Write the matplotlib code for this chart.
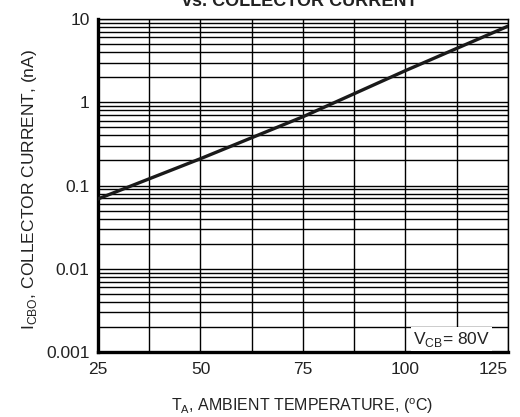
import numpy as np
import matplotlib.pyplot as plt
from matplotlib.ticker import FixedLocator, NullFormatter

# 데이터
온도 = [25, 50, 75, 100, 125]
전류 = [0.069, 0.21, 0.67, 2.4, 8.2]
x눈금 = [25, 50, 75, 100, 125]
y눈금 = [0.001, 0.01, 0.1, 1, 10]
y눈금라벨 = ["0.001", "0.01", "0.1", "1", "10"]

plt.rcParams["font.family"] = ["Liberation Sans Narrow", "Liberation Sans", "DejaVu Sans"]

fig = plt.figure(figsize=(5.2, 4.17), dpi=100)
ax = fig.add_axes([98 / 520, 1 - 352 / 417, 410 / 520, 333 / 417])

ax.set_yscale("log")
ax.set_xlim(25, 125)
ax.set_ylim(0.001, 10)

# 격자
for x in np.arange(25, 125.1, 12.5):
    ax.axvline(x, color="black", lw=1.0, zorder=1)
for d in [0.001, 0.01, 0.1, 1]:
    for m in range(1, 10):
        ax.axhline(d * m, color="black", lw=1.0, zorder=1)
ax.axhline(10, color="black", lw=1.0, zorder=1)

ax.plot(온도, 전류, color="#1a1a1a", lw=2.4, zorder=3)

ax.set_xticks(x눈금)
ax.set_xticklabels([str(v) for v in x눈금])
ax.yaxis.set_major_locator(FixedLocator(y눈금))
ax.set_yticklabels(y눈금라벨)
ax.yaxis.set_minor_formatter(NullFormatter())
ax.tick_params(axis="both", which="both", length=0, labelsize=12.5, colors="#222222")
ax.tick_params(axis="x", pad=7)
ax.tick_params(axis="y", pad=6)
# 오른쪽 끝 라벨이 잘리지 않도록
ax.get_xticklabels()[-1].set_horizontalalignment("right")

for s in ["left", "bottom"]:
    ax.spines[s].set_linewidth(2.4)
for s in ["top", "right"]:
    ax.spines[s].set_linewidth(1.0)

ax.text(111.3, 0.00143, "V$_{\\mathregular{CB}}$= 80V", fontsize=12.5, ha="center", va="center",
        color="#222222", bbox=dict(facecolor="white", edgecolor="none", pad=1.5), zorder=4)

fig.text(302 / 520, 1 - 406 / 417, "T$_{\\mathregular{A}}$, AMBIENT TEMPERATURE, ($^{\\mathregular{o}}$C)",
         fontsize=11.5, ha="center", va="center", color="#222222")
fig.text(30 / 520, 1 - 190 / 417, "I$_{\\mathregular{CBO}}$, COLLECTOR CURRENT, (nA)",
         fontsize=12.5, ha="center", va="center", rotation=90, color="#222222")
fig.text(300 / 520, 1 - 2 / 417, "vs. COLLECTOR CURRENT", fontsize=13, fontweight="bold",
         ha="center", va="center", color="#222222", family=["Liberation Sans", "DejaVu Sans"])

fig.savefig("out.png", dpi=100)
